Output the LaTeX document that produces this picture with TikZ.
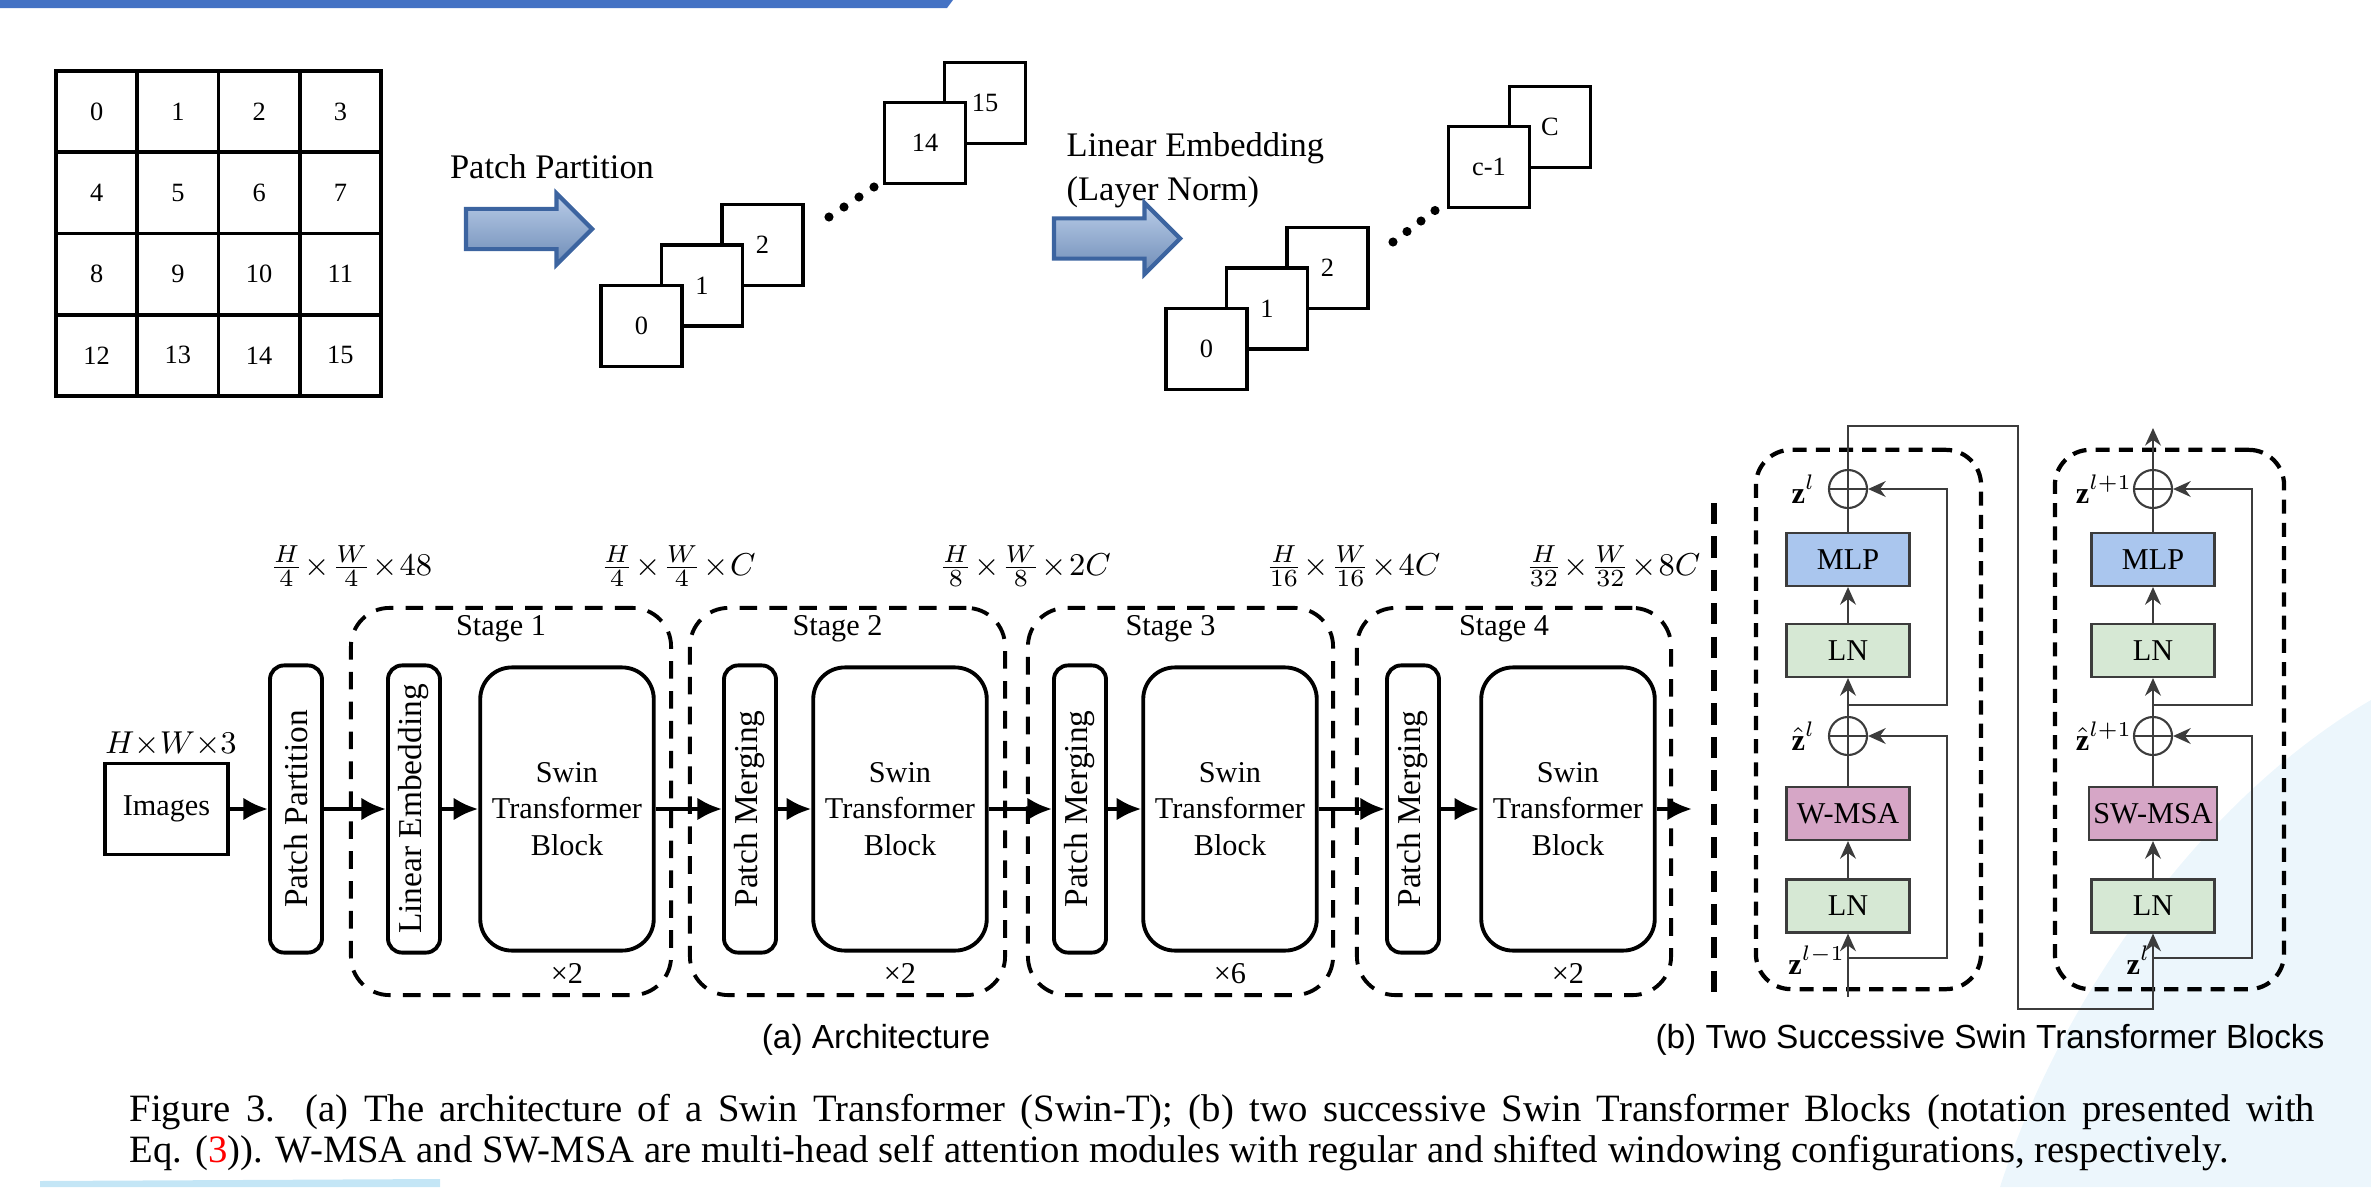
\documentclass[tikz,border=0pt]{standalone}
\usepackage{fontspec}
\setmainfont{Liberation Serif}
\setsansfont{Liberation Sans}
\usetikzlibrary{arrows.meta,shapes.arrows,positioning}

\definecolor{mlpblue}{RGB}{170,198,238}
\definecolor{lngreen}{RGB}{214,232,212}
\definecolor{msapink}{RGB}{214,166,198}
\definecolor{arrowfill}{RGB}{130,165,215}
\definecolor{arrowedge}{RGB}{60,100,160}
\definecolor{barblue}{RGB}{68,114,196}
\definecolor{slidetint}{RGB}{236,246,252}
\definecolor{stripcyan}{RGB}{196,230,246}
\definecolor{linegray}{RGB}{60,60,60}

\newcommand{\boxfont}{\fontsize{8.6}{10.4}\selectfont}
\newcommand{\numfont}{\fontsize{7.5}{8}\selectfont}
\newcommand{\tm}{\mkern1mu{\times}\mkern1mu}

\begin{document}
\begin{tikzpicture}[x=0.01cm,y=-0.01cm,
    cell/.style={draw,line width=1.1pt,minimum size=0.8125cm,inner sep=0pt,font=\numfont},
    patch/.style={draw,fill=white,line width=1.1pt,minimum size=0.81cm,inner sep=0pt,font=\numfont},
    bigarrow/.style={single arrow,draw=arrowedge,line width=1.2pt,top color=arrowfill!55!white,bottom color=arrowfill!85!black,
        minimum height=1.26cm,single arrow head extend=0.155cm,inner sep=0.18cm},
    toplabel/.style={font=\fontsize{9.8}{12.5}\selectfont,inner sep=0pt},
    plainbox/.style={draw,line width=1.1pt,minimum width=1.23cm,minimum height=0.91cm,inner sep=0pt,font=\boxfont},
    tallbox/.style={draw,line width=1.1pt,rounded corners=4pt,rotate=90,minimum width=2.87cm,minimum height=0.52cm,inner sep=0pt,font=\fontsize{9.5}{10}\selectfont},
    stbbox/.style={draw,line width=1.1pt,rounded corners=9pt,minimum width=1.7cm,minimum height=2.83cm,align=center,font=\boxfont},
    stagebox/.style={draw,line width=1.1pt,dash pattern=on 5pt off 3.5pt,rounded corners=11pt,minimum height=3.87cm},
    stagelabel/.style={font=\boxfont,inner sep=0pt},
    dimlabel/.style={font=\fontsize{9.5}{10}\selectfont,inner sep=0pt},
    flow/.style={line width=1.3pt,-{Latex[length=7pt,width=6.5pt]}},
    layer/.style={draw=linegray,line width=0.6pt,minimum width=1.23cm,minimum height=0.53cm,inner sep=0pt,font=\boxfont},
    addop/.style={circle,draw=linegray,line width=0.6pt,minimum size=0.38cm,inner sep=0pt,
        path picture={\draw[linegray,line width=0.6pt] (path picture bounding box.north) -- (path picture bounding box.south)
            (path picture bounding box.west) -- (path picture bounding box.east);}},
    res/.style={draw=linegray,line width=0.6pt},
    resarrow/.style={res,-{Stealth[length=5pt,width=4.5pt]}},
    blockbox/.style={draw,line width=1.2pt,dash pattern=on 4pt off 2.6pt,rounded corners=10pt,minimum height=5.39cm},
    zlabel/.style={font=\boxfont,inner sep=0pt},
    caption/.style={font=\fontsize{11}{13}\selectfont,inner sep=0pt}]

\useasboundingbox (0,0) rectangle (2371,1187);

% slide background
\fill[barblue] (0,0) -- (953,0) -- (947,8) -- (0,8) -- cycle;
\fill[slidetint] (2000,1187) .. controls (2060,1000) and (2200,800) .. (2371,700) -- (2371,1187) -- cycle;
\fill[stripcyan] (40,1181) -- (440,1179) -- (440,1187) -- (40,1187) -- cycle;

% Image grid
\foreach \r in {0,...,3}
  \foreach \c in {0,...,3} {
    \pgfmathtruncatemacro{\n}{4*\r+\c}
    \node[cell] (g\n) at ({96.6+81.25*\c},{111.6+81.25*\r}) {\n};
  }

% Patch partition
\node[toplabel] (pp-text) at (552,167) {Patch Partition};
\node[bigarrow] (pp-arrow) at (519,229) {};
\foreach \lbl/\px/\py in {15/985/103, 14/925/143, 2/762.5/245, 1/702/285.5, 0/641.5/326}
  \node[patch] (pa\lbl) at (\px,\py) {\lbl};
\foreach \k in {0,...,3}
  \fill ({829+15*\k},{217-10*\k}) circle (1.3pt);

% Linear embedding
\node[toplabel,align=left,anchor=west] (le-text) at (1066,170) {Linear Embedding\\(Layer Norm)};
\node[bigarrow] (le-arrow) at (1107,238.5) {};
\foreach \lbl/\nm/\px/\py in {C/C/1550/127, c-1/cm/1489/167, 2/2/1327.5/268, 1/1/1267/308.5, 0/0/1206.5/349}
  \node[patch] (pb\nm) at (\px,\py) {\lbl};
\foreach \k in {0,...,3}
  \fill ({1393+14*\k},{242-10.5*\k}) circle (1.3pt);

% Stages
\node[stagebox,minimum width=3.2cm] (stage1) at (511,801.5) {};
\node[stagebox,minimum width=3.15cm] (stage2) at (847.5,801.5) {};
\node[stagebox,minimum width=3.05cm] (stage3) at (1180.5,801.5) {};
\node[stagebox,minimum width=3.14cm] (stage4) at (1514,801.5) {};
\foreach \s in {1,...,4}
  \node[stagelabel] at ([xshift=-0.1cm,yshift=-0.23cm]stage\s.north) {Stage \s};

% Architecture
\node[plainbox] (img) at (166.5,809) {Images};
\node[dimlabel] (img-dim) at (171,744) {$H{\times}W{\times}3$};
\node[tallbox] (pp) at (296,809) {Patch Partition};
\node[tallbox] (le) at (414,809) {Linear Embedding};
\node[stbbox] (stb1) at (567,809) {Swin\\Transformer\\Block};
\node[tallbox] (pm2) at (750,809) {Patch Merging};
\node[stbbox] (stb2) at (900,809) {Swin\\Transformer\\Block};
\node[tallbox] (pm3) at (1080,809) {Patch Merging};
\node[stbbox] (stb3) at (1230,809) {Swin\\Transformer\\Block};
\node[tallbox] (pm4) at (1413,809) {Patch Merging};
\node[stbbox] (stb4) at (1568,809) {Swin\\Transformer\\Block};
\coordinate (out) at (1692,809);
\foreach \a/\b in {img/pp,pp/le,le/stb1,stb1/pm2,pm2/stb2,stb2/pm3,pm3/stb3,stb3/pm4,pm4/stb4,stb4/out}
  \draw[flow] (\a) -- (\b);
\foreach \b/\t in {stb1/2,stb2/2,stb3/6,stb4/2}
  \node[stagelabel] at ([yshift=-0.21cm]\b.south) {×\t};

% Sizes
\node[dimlabel] (dim0) at (351,566) {$\frac{H}{4}\tm\frac{W}{4}\tm 48$};
\node[dimlabel] (dim1) at (678,566) {$\frac{H}{4}\tm\frac{W}{4}\tm C$};
\node[dimlabel] (dim2) at (1025,566) {$\frac{H}{8}\tm\frac{W}{8}\tm 2C$};
\node[dimlabel] (dim3) at (1353,566) {$\frac{H}{16}\tm\frac{W}{16}\tm 4C$};
\node[dimlabel] (dim4) at (1613,566) {$\frac{H}{32}\tm\frac{W}{32}\tm 8C$};

% Separator
\draw[line width=1.6pt,dash pattern=on 6pt off 3.5pt] (1714,503) -- (1714,993);

% Two successive blocks
\node[blockbox,minimum width=2.25cm] (blk1) at (1868.5,719.5) {};
\node[blockbox,minimum width=2.29cm] (blk2) at (2169.5,719.5) {};

\node[addop] (add1) at (1848,489) {};
\node[layer,fill=mlpblue] (mlp1) at (1848,559.5) {MLP};
\node[layer,fill=lngreen] (ln2) at (1848,650.5) {LN};
\node[addop] (add0) at (1848,736) {};
\node[layer,fill=msapink] (msa1) at (1848,813.5) {W-MSA};
\node[layer,fill=lngreen] (ln1) at (1848,906) {LN};
\coordinate (in1) at (1848,997);
\coordinate (br1) at (1848,958);
\coordinate (br2) at (1848,705);

\node[addop] (add3) at (2153,489) {};
\node[layer,fill=mlpblue] (mlp2) at (2153,559.5) {MLP};
\node[layer,fill=lngreen] (ln4) at (2153,650.5) {LN};
\node[addop] (add2) at (2153,736) {};
\node[layer,fill=msapink,minimum width=1.28cm] (msa2) at (2153,813.5) {SW-MSA};
\node[layer,fill=lngreen] (ln3) at (2153,906) {LN};
\coordinate (br3) at (2153,958);
\coordinate (br4) at (2153,705);
\coordinate (hop1) at (2018,426);
\coordinate (hop2) at (2018,1009);
\coordinate (out2) at (2153,428);

\draw[resarrow] (in1) -- (ln1);
\draw[resarrow] (ln1) -- (msa1);
\draw[res] (msa1) -- (add0);
\draw[resarrow] (add0) -- (ln2);
\draw[resarrow] (ln2) -- (mlp1);
\draw[res] (mlp1) -- (add1);
\draw[resarrow] (br1) -| ([xshift=0.99cm]add0.center) -- (add0);
\draw[resarrow] (br2) -| ([xshift=0.99cm]add1.center) -- (add1);
\draw[resarrow] (add1) -- (add1 |- hop1) -- (hop1) -- (hop2) -- (hop2 -| ln3) -- (ln3);

\draw[resarrow] (ln3) -- (msa2);
\draw[res] (msa2) -- (add2);
\draw[resarrow] (add2) -- (ln4);
\draw[resarrow] (ln4) -- (mlp2);
\draw[res] (mlp2) -- (add3);
\draw[resarrow] (add3) -- (out2);
\draw[resarrow] (br3) -| ([xshift=0.99cm]add2.center) -- (add2);
\draw[resarrow] (br4) -| ([xshift=0.99cm]add3.center) -- (add3);

\node[zlabel,left=0.12cm of add1] (z1) {$\mathbf{z}^{l}$};
\node[zlabel,left=0.12cm of add0] (zh1) {$\hat{\mathbf{z}}^{l}$};
\node[zlabel,anchor=south east] (zin1) at ([xshift=-0.02cm,yshift=0.22cm]in1) {$\mathbf{z}^{l-1}$};
\node[zlabel,left=0pt of add3] (z2) {$\mathbf{z}^{l+1}$};
\node[zlabel,left=0pt of add2] (zh2) {$\hat{\mathbf{z}}^{l+1}$};
\node[zlabel,anchor=south east] (zin2) at ([xshift=-0.02cm,yshift=0.22cm]br3 |- in1) {$\mathbf{z}^{l}$};

% Captions
\node[font=\sffamily\fontsize{9.5}{11}\selectfont,inner sep=0pt] (cap-a) at (876,1040) {(a) Architecture};
\node[font=\sffamily\fontsize{9.5}{11}\selectfont,inner sep=0pt] (cap-b) at (1990,1040) {(b) Two Successive Swin Transformer Blocks};
\node[caption,anchor=base west] (fig-l1) at (129,1121) {\hbox to 21.84cm{Figure 3. (a) The architecture of a Swin Transformer (Swin-T); (b) two successive Swin Transformer Blocks (notation presented with}};
\node[caption,anchor=base west] (fig-l2) at (129,1162) {Eq. (\textcolor{red}{3})). W-MSA and SW-MSA are multi-head self attention modules with regular and shifted windowing configurations, respectively.};
\end{tikzpicture}
\end{document}
